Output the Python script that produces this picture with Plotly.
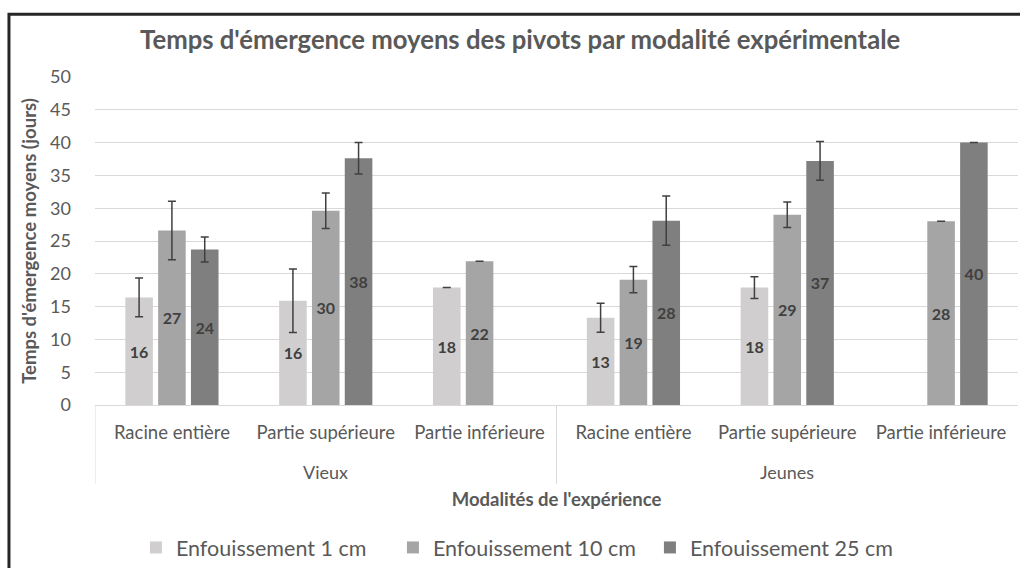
import plotly.graph_objects as go

# x categories (two levels)
GROUPS = ["Vieux"] * 3 + ["Jeunes"] * 3
PARTS = ["Racine entière", "Partie supérieure", "Partie inférieure"] * 2
POS = list(range(len(PARTS)))

SERIES = ["Enfouissement 1 cm", "Enfouissement 10 cm", "Enfouissement 25 cm"]

# mean emergence time (days) and error (+/-)
cm1 = [16.4, 15.9, 17.9, 13.3, 17.9, None]
cm1_err = [2.95, 4.85, 0, 2.2, 1.65, None]
cm10 = [26.6, 29.6, 21.9, 19.1, 29.0, 28.0]
cm10_err = [4.45, 2.7, 0, 2.0, 1.95, 0]
cm25 = [23.7, 37.6, None, 28.1, 37.2, 40.0]
cm25_err = [1.9, 2.4, None, 3.75, 2.95, 0]

COLORS = ["#d0cece", "#a5a5a5", "#7f7f7f"]
FONT = "Lato, Open Sans, sans-serif"
TXT = "#595959"

fig = go.Figure()
for name, vals, errs, col in zip(SERIES, [cm1, cm10, cm25],
                                 [cm1_err, cm10_err, cm25_err], COLORS):
    fig.add_trace(go.Bar(
        name=name,
        x=POS,
        y=vals,
        marker=dict(color=col, line=dict(width=0)),
        error_y=dict(type="data", array=errs, visible=True,
                     color="#404040", thickness=1.5, width=4),
        texttemplate="%{y:.0f}",
        textposition="inside",
        insidetextanchor="middle",
        textangle=0,
        textfont=dict(family=FONT, size=16, color="#404040", weight="bold"),
        cliponaxis=False,
    ))

# group labels ("Vieux" / "Jeunes") and dividers under the category labels
annotations = []
shapes = []
for g in dict.fromkeys(GROUPS):
    idx = [i for i, v in enumerate(GROUPS) if v == g]
    annotations.append(dict(x=sum(POS[i] for i in idx) / len(idx), xref="x",
                            y=-0.205, yref="paper", yanchor="middle",
                            text=g, showarrow=False,
                            font=dict(size=18, color=TXT)))
    shapes.append(dict(type="line", xref="x", yref="paper",
                       x0=POS[idx[0]] - 0.5, x1=POS[idx[0]] - 0.5,
                       y0=0, y1=-0.24, line=dict(color="#d9d9d9", width=1)))

shapes.append(dict(type="rect", xref="paper", yref="paper",
                   x0=-0.0932, x1=1.2, y0=-0.7, y1=1.1915,
                   line=dict(color="#262626", width=3)))

fig.update_layout(
    width=1020, height=568,
    paper_bgcolor="white", plot_bgcolor="white",
    barmode="group", bargap=0.36, bargroupgap=0.16,
    margin=dict(l=95, r=2, t=77, b=162),
    font=dict(family=FONT, size=18, color=TXT),
    title=dict(text="<b>Temps d'émergence moyens des pivots par modalité expérimentale</b>",
               x=0.51, xanchor="center", y=1 - 40 / 568, yanchor="middle",
               font=dict(size=25.7, color=TXT)),
    xaxis=dict(
        range=[-0.5, 5.5], tickvals=POS, ticktext=PARTS,
        showgrid=False, zeroline=False,
        showline=True, linecolor="#d9d9d9", linewidth=1,
        ticks="", ticklabelstandoff=11,
        tickfont=dict(size=18.5, color=TXT),
        title=dict(text="<b>Modalités de l'expérience</b>",
                   font=dict(size=18.5, color=TXT), standoff=50),
    ),
    yaxis=dict(
        range=[0, 50], dtick=5, showgrid=True, gridcolor="#d9d9d9",
        gridwidth=1, zeroline=False, showline=False,
        ticks="", ticklabelstandoff=23,
        tickfont=dict(size=18, color=TXT),
        title=dict(text="<b>Temps d'émergence moyens (jours)</b>",
                   font=dict(size=18.5, color=TXT), standoff=8),
    ),
    legend=dict(orientation="h", x=0.462, xanchor="center", y=-0.43,
                yanchor="middle", font=dict(size=21.5, color=TXT),
                itemwidth=30, entrywidth=212, entrywidthmode="pixels",
                traceorder="normal"),
    annotations=annotations,
    shapes=shapes,
)

fig.write_html("out.html", config={"displayModeBar": False},
               post_script="document.body.style.margin='0px';")
